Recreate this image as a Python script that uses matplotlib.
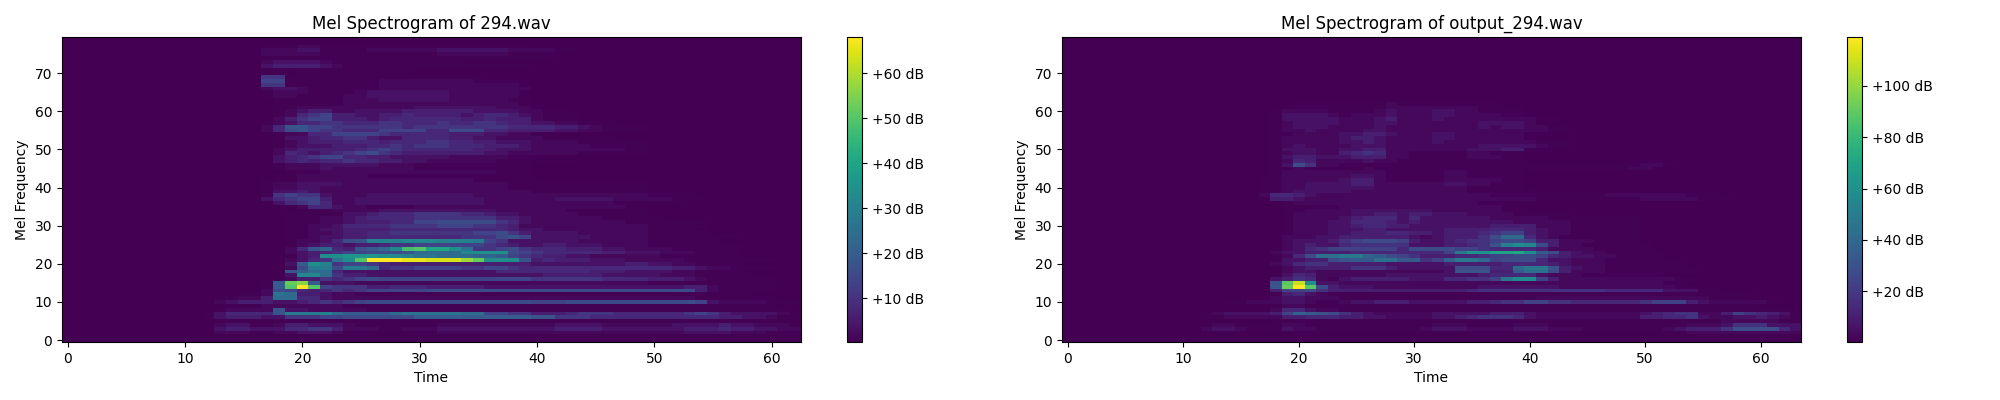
import matplotlib
matplotlib.use('Agg')
import matplotlib.pyplot as plt
import numpy as np

Z = "0000000000"

# one string per mel bin (bottom row first), one base-36 digit per frame,
# read off the picture. groups of ten frames, missing tail is silence
orig_rows = [
    "",
    Z + " 0000000000 0000000000 0000000000 1111111111 1111111111 110",
    Z + " 0002221122 3332111111 1122222222 2222222222 2223333222 111",
    Z + " 0003443335 5664222112 2233333333 3344443333 3334445443 322",
    Z + " 0002331124 4333211111 1122222222 2233332222 2233334332 221",
    Z + " 0001111111 1111111111 1111111111 1111111111 1111111111 110",
    Z + " 0013444336 6677888888 aaaaaaaaaa 9966655555 5555554433 211",
    Z + " 001355559e eefcaaaacd ddddcc7766 4445666555 5556764333 321",
    Z + " 0001222293 3222221111 1111111111 1111111111 1111111111 110",
    Z + " 0000111222 2222111111 1111111111 1111111111 1111111111 100",
    Z + " 0002344433 4565678888 8888888888 7778888888 8888732222 111",
    Z + " 00011224cc 5532222222 2222222222 2222222222 2222111111 100",
    Z + " 00000112dc 4432211111 1111111111 1111111111 1111111110 000",
    Z + " 0000000287 5456567777 7888888888 8888888888 8888421111 100",
    Z + " 00000001ap yp76664455 5444443333 3333333333 3334421111 100",
    Z + " 00000001aq sa33322222 2222222222 2222222222 1111111111 100",
    Z + " 0000000002 4465678777 7777777777 6666665555 4443211111 100",
    Z + " 0000000003 ggc6443333 3333333333 3444443333 3222111110 000",
    Z + " 0000000019 acc5333333 3333333555 5555544433 3322111100 000",
    Z + " 0000000002 8ee8eec566 7777667765 5555555555 5544322111 100",
    Z + " 0000000003 ahf6776544 4444444444 3333333344 3322111100 000",
    Z + " 0000000002 356dhpyyyx xwwwtqhhh9 4544433322 2221111111 100",
    Z + " 0000000001 34hhiiihgf ddcccbba76 5443322222 2111111100 000",
    Z + " 0000000002 3456778889 ccccghhh87 6555554433 3222111100 000",
    Z + " 0000000002 59b549acgo pkkhd66786 5554443322 2211111100 000",
    Z + " 0000000001 2344344566 7777776543 3443332222 1111111100 000",
    Z + " 0000000001 223589fffg ggfffe7633 3333222222 1111110000 000",
    Z + " 0000000001 1233445555 5555666897 3333322222 1111111100 000",
    Z + " 0000000001 1223445566 6666677864 3333222222 1111100000 000",
    Z + " 0000000001 1233444455 5555555543 3222222222 1111000000 000",
    Z + " 0000000001 1223555566 6677766542 2222222222 1111100000 000",
    Z + " 0000000001 1122344455 7788888653 2222222211 1111100000 000",
    Z + " 0000000001 1122345555 6666666443 2222221111 1000000000 000",
    Z + " 0000000001 1111334555 6666554332 2222111111",
    Z + " 0000000000 1112222333 3333333222 2221111111",
    Z + " 0000000000 2553221111 2222222222 2222222211",
    Z + " 0000000035 6752233333 3333332222 2222222111 1110000000",
    Z + " 0000000356 7742233333 3333332222 2233333222 2211100000",
    Z + " 0000000167 6632223333 3333322222 2222222222 1111000000",
    Z + " 0000000133 4322222222 2222222222 1111111111",
    Z + " 0000000122 3322222222 2222222211 1111111111",
    Z + " 0000000122 3333222222 2222222211 1111111111",
    Z + " 0000000111 2222222222 2222211111 1",
    Z + " 0000000011 2222221111 1111111111",
    Z + " 0000000001 1122222222 2222222111",
    Z + " 0000000012 2232222222 1111111111",
    Z + " 0000000012 2233333222 1111111111",
    Z + " 0000000034 5455655443 3222222111 1111",
    Z + " 0000000034 5677554433 3332222211",
    Z + " 0000000025 4345678654 4444443322 2222111111",
    Z + " 0000000023 4444456765 5555544333 2222222211",
    Z + " 0000000012 3334445565 6665554443 2222211111",
    Z + " 0000000012 3444555455 5665544333 2222111111",
    Z + " 0000000013 3455664335 5554433222 2111111",
    Z + " 0000000012 2557777655 5554443322",
    Z + " 0000000258 9766555777 7558885544 4433221111",
    Z + " 0000000259 9776666665 6666666655 5544321111",
    Z + " 0000000123 5566555665 5565566544 3322111000",
    Z + " 0000000024 6774443455 5555445444 2111",
    Z + " 0000000012 5674433445 4444345543 2111",
    Z + " 0000000012 3442233334 4444433332 211",
    Z + " 0000000011 2222222222 3333333222 1",
    Z + " 0000000011 1111222222 2222222221",
    Z + " 0000000011 1111222333 3332222211",
    Z + " 0000000122 1111223333 3332222221",
    Z + " 0000000122 2111123333 3332222221",
    Z + " 0000000233 2111111222 2222222222",
    Z + " 0000000661 1111111222 2222222221",
    Z + " 0000000771 1111111222 2222211111",
    Z + " 0000000661 1111111111 111111",
    Z + " 0000000110 1111111111",
    Z + " 0000000111 1111111111",
    Z + " 0000000344 4432111111 1111111111",
    Z + " 0000000233 3321111111 1111",
    Z + " 0000000111 1111111111 1111111111 11",
    Z + " 0000000222 2211111111 1122222211 11",
    Z + " 0000000222 3311112222 2233333322 2211",
    Z + " 0000000111 2211111111 1111111111",
    "",
    "",
]

output_rows = [
    "",
    Z + " 0000000000 0000000000 0000000000 0000000000 0000011111 1111",
    Z + " 0011110011 1111111111 1111111111 1111111111 1111222222 2222",
    Z + " 0023321113 2211111111 1233322223 3322211111 1123444688 8853",
    Z + " 0012211112 2111111111 1122211112 2211111111 1111222366 6333",
    Z + " 0000000011 1111111111 1111111111 1111111111 1111111222 2211",
    Z + " 0011222224 4555443322 2233456665 3222222222 4455632233 4321",
    Z + " 0012333347 ba98643222 2233333444 3222222222 3456622476 5431",
    Z + " 0000000025 5322111111 1111111111 1111111111 1111111111 1110",
    Z + " 0000000012 2111111111 1111111111 1111111111 1111111111",
    Z + " 0000112223 3211233444 3333344566 7766555555 6777432222 2100",
    Z + " 0000000023 3222111111 1111111111 1222222222 2222221111",
    Z + " 0000000014 5321111111 1111111111 1111111111 1111111111",
    Z + " 0000000047 7864444444 4444456666 6666666555 5533311000",
    Z + " 000000009r zq84333222 2222223333 3332222222 2221100000",
    Z + " 000000009q wh33222222 2222222222 2222222222 2211000000",
    Z + " 0000000034 6521344444 3335566 7eh h742222222 2221100000",
    Z + " 0000000013 5422222233 3333334555 5322211111 1100000000",
    Z + " 0000000002 3322222222 2223999 44a dd84222111 1111100000",
    Z + " 0000000002 3444466643 3333888 55c ee94322111 1111100000",
    Z + " 0000000023 5664444433 3334444455 5543222111 11110",
    Z + " 0000000013 3448 9aadda a67beec788 8533222111 1111000000",
    Z + " 0000000012 58ddeeba87 6444556778 8754332211 1100",
    Z + " 0000000023 3444455555 5557eiikkl ha84322111 1100000000",
    Z + " 0000000012 3567777775 8888776555 5422221111 1",
    Z + " 0000000002 3433566666 3334456 9fh g842211111 1",
    Z + " 0000000002 3334678887 4334566788 7442221111",
    Z + " 0000000002 2233444444 3234446 8cc 5321111111",
    Z + " 0000000001 2223344455 4434445677 4322111111",
    Z + " 0000000001 2223334433 3334444555 4322111111",
    Z + " 0000000001 2223345544 3333333444 4222111111",
    Z + " 0000000001 2223355543 4333333332 2222111111",
    Z + " 0000000001 2222345553 5333333222 2211111111",
    Z + " 0000000001 2222233443 4433322221 1111",
    Z + " 0000000001 1222233333 3322222211",
    Z + " 0000000001 1111222222 2222222211",
    Z + " 0000000001 2222222222 2222221111 1",
    Z + " 0000000144 3222222222 2222222222 2111111111 2222211100",
    Z + " 0000000255 4322222222 2222222111 1111111222 2222111000",
    Z + " 0000000112 3333322222 2222211111 1",
    Z + " 0000000112 2333333222 2222211111",
    Z + " 0000000112 2333344222 2223322111",
    Z + " 0000000112 2222344211 1112222211",
    Z + " 0000000012 2222233211 1112211111",
    Z + " 0000000012 2222222211 1112211111",
    Z + " 0000000011 2111112111 1111111111 1111111112 2",
    Z + " 0000000013 8622111111 1111111111 1111111111 2210000000",
    Z + " 0000000012 5422223221 1111111111",
    Z + " 0000000013 4433344422 1111122211",
    Z + " 0000000012 3322456522 1111122111",
    Z + " 0000000013 3322334422 2222233344 1",
    Z + " 0000000012 3222233322 2222223333 3211",
    Z + " 0000000012 2222334322 2232222222 2111",
    Z + " 0000000012 2222344322 2233222222",
    Z + " 0000000011 2222334432 2233222222",
    Z + " 0000000012 2322223322 2222222222 2211",
    Z + " 0000000012 3332222322 2222223233 2211",
    Z + " 0000000012 3333222332 2222223333 2",
    Z + " 0000000013 3333222342 2232222222 211",
    Z + " 0000000013 3332122232 2233222211",
    Z + " 0000000012 2221111232 2233221111",
    Z + " 0000000001 1111111122 2222221111",
    Z + " 0000000000 1111111121 1111111100",
    "", "", "", "", "", "", "", "", "", "", "", "", "", "", "", "", "",
]

orig_db_step = 2.0
output_db_step = 3.4
# the faintest digits sit closer to the floor than a plain step
faint_levels = {0: 0.0, 1: 0.3, 2: 0.9, 3: 1.8, 4: 3.0, 5: 4.0, 6: 5.2}


def to_db(rows, frames, step):
    digits = [[int(c, 36) for c in r.replace(' ', '').ljust(frames, '0')] for r in rows]
    levels = [[faint_levels.get(d, d) for d in row] for row in digits]
    return np.clip(np.array(levels) * step, 0.3, None)


def panel(fig, left, rows, frames, step, name):
    ax = fig.add_axes([left / 2000, 0.145, 739 / 2000, 0.7625])
    im = ax.imshow(to_db(rows, frames, step), aspect='auto', origin='lower', cmap='viridis')
    cax = fig.add_axes([(left + 785) / 2000, 0.145, 15 / 2000, 0.7625])
    fig.colorbar(im, cax=cax, format='%+2.0f dB')
    ax.set_title('Mel Spectrogram of ' + name)
    ax.set_xlabel('Time')
    ax.set_ylabel('Mel Frequency')


fig = plt.figure(figsize=(20, 4))
panel(fig, 62, orig_rows, 63, orig_db_step, '294.wav')
panel(fig, 1062, output_rows, 64, output_db_step, 'output_294.wav')
plt.savefig('out.png', dpi=100)
